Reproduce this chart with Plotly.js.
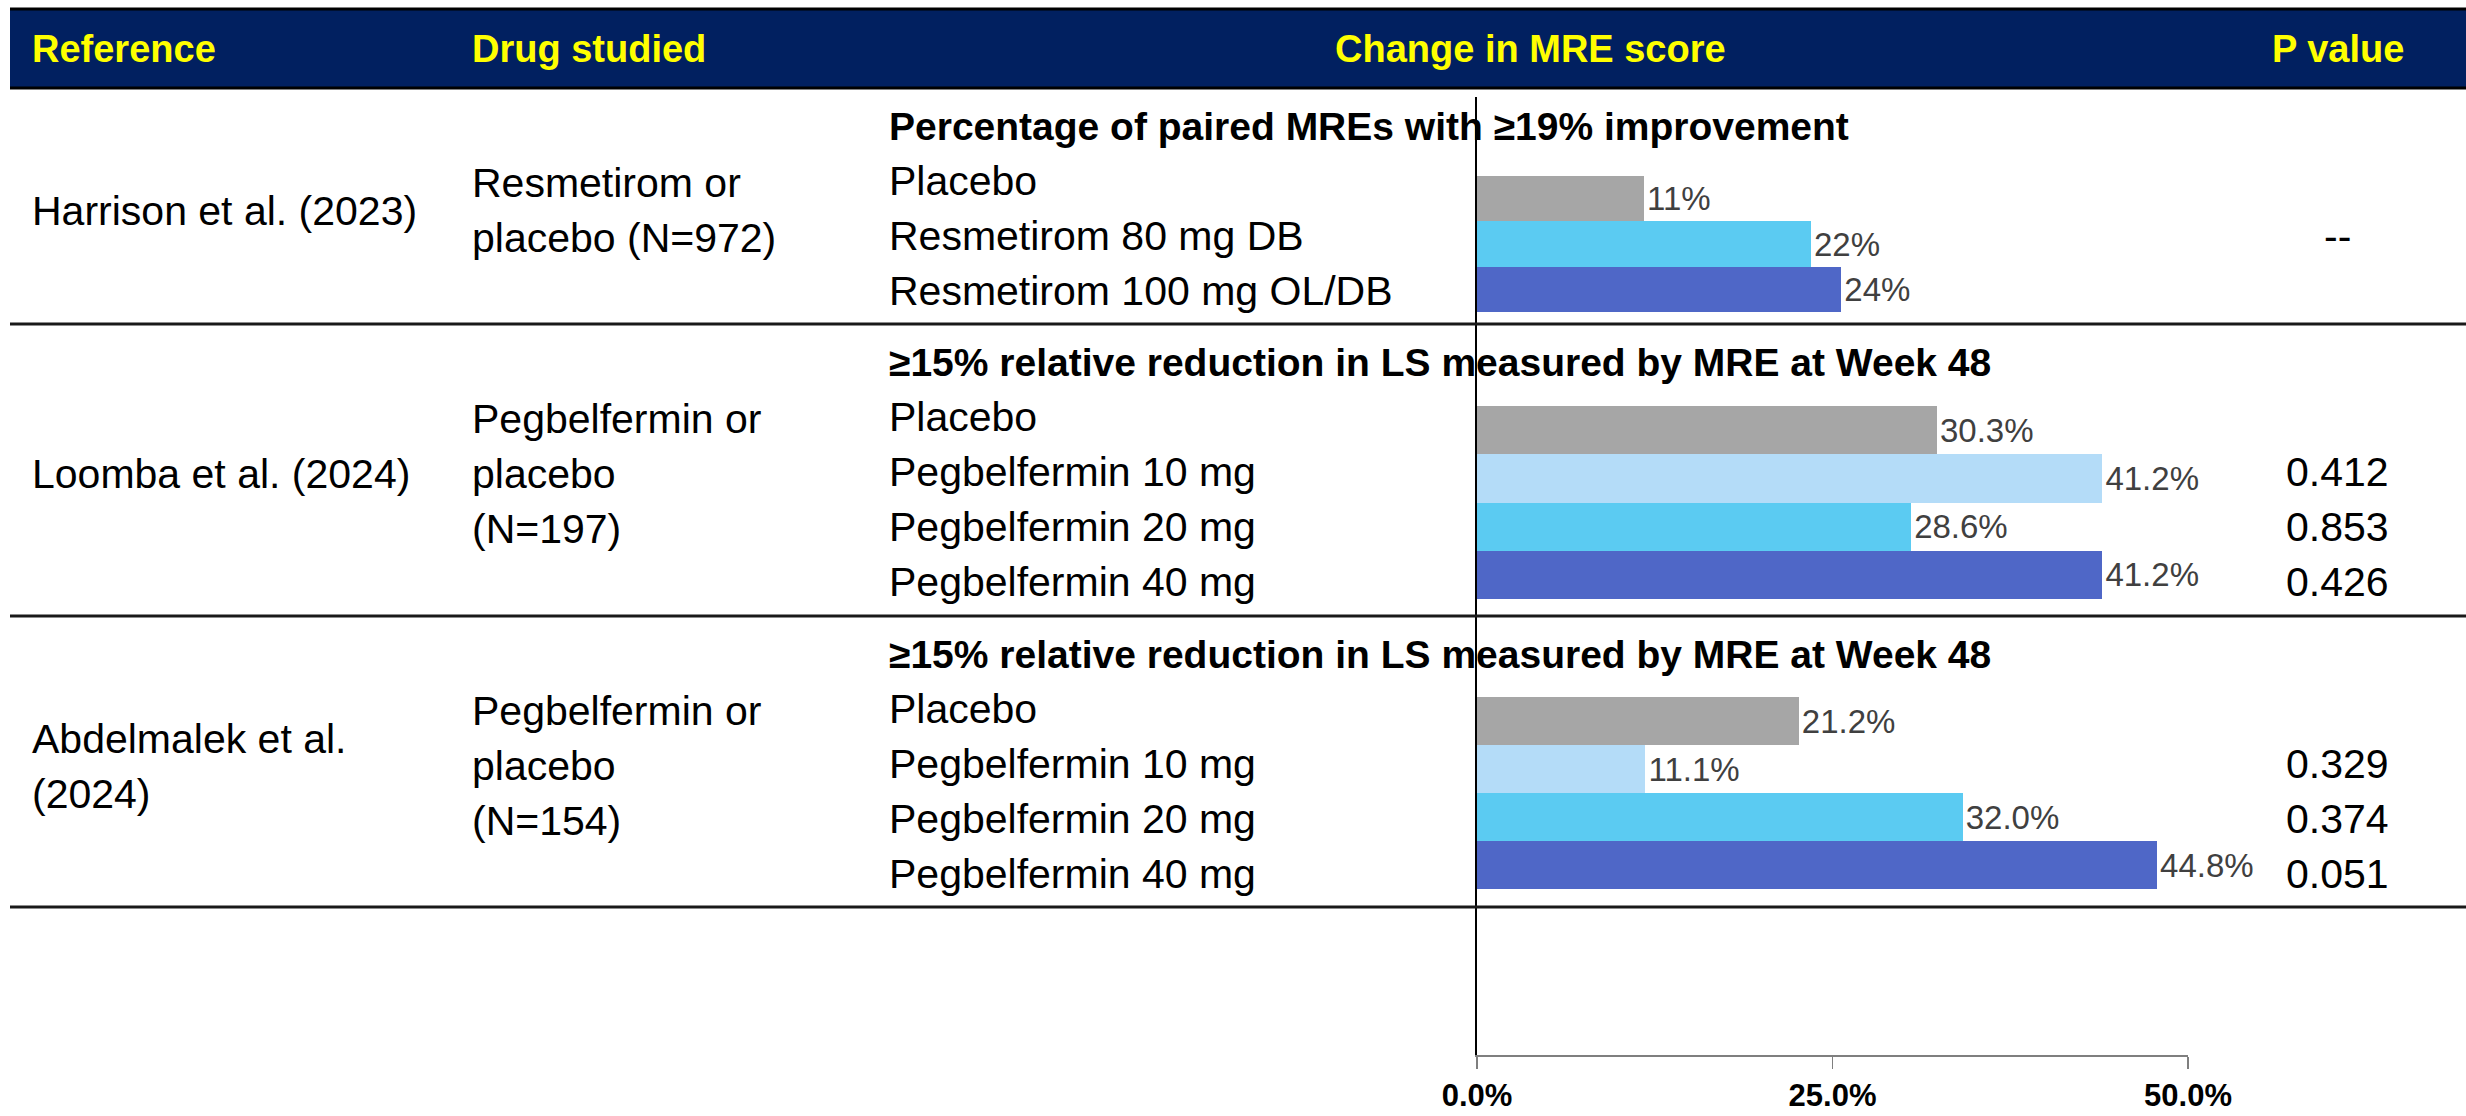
<!DOCTYPE html>
<html>
<head>
<meta charset="utf-8">
<script src="https://cdn.plot.ly/plotly-3.0.1.min.js"></script>
<style>html,body{margin:0;padding:0;background:#fff;}#chart{width:2466px;height:1116px;}</style>
</head>
<body>
<div id="chart"></div>
<script>
// ---- data ----
const columnHeaders = ['Reference', 'Drug studied', 'Change in MRE score', 'P value'];
const references = ['Harrison et al. (2023)', 'Loomba et al. (2024)', 'Abdelmalek et al.<br>(2024)'];
const drugs = ['Resmetirom or<br>placebo (N=972)', 'Pegbelfermin or<br>placebo<br>(N=197)', 'Pegbelfermin or<br>placebo<br>(N=154)'];
const measures = [
  'Percentage of paired MREs with ≥19% improvement',
  '≥15% relative reduction in LS measured by MRE at Week 48',
  '≥15% relative reduction in LS measured by MRE at Week 48'
];
const harrisonArms = ['Placebo', 'Resmetirom 80 mg DB', 'Resmetirom 100 mg OL/DB'];
const harrisonValues = [11, 22, 24];
const harrisonP = ['', '--', ''];
const loombaArms = ['Placebo', 'Pegbelfermin 10 mg', 'Pegbelfermin 20 mg', 'Pegbelfermin 40 mg'];
const loombaValues = [30.3, 41.2, 28.6, 41.2];
const loombaP = ['', '0.412', '0.853', '0.426'];
const abdelmalekArms = ['Placebo', 'Pegbelfermin 10 mg', 'Pegbelfermin 20 mg', 'Pegbelfermin 40 mg'];
const abdelmalekValues = [21.2, 11.1, 32.0, 44.8];
const abdelmalekP = ['', '0.329', '0.374', '0.051'];
const axisTicks = [0, 25, 50];
const axisTickLabels = ['0.0%', '25.0%', '50.0%'];

// ---- styling / layout ----
const W = 2466, H = 1116;
const FONT = '"Liberation Sans", Arial, sans-serif';
const GRAY = '#A6A6A6', LIGHT = '#B4DCF8', CYAN = '#5BCBF2', BLUE = '#4F67C7';
const px = v => v / W;
const py = v => 1 - v / H;

const X0 = 1477, X1 = 2188;       // axis pixel span
const groups = [
  {arms: harrisonArms, values: harrisonValues, p: harrisonP, colors: [GRAY, CYAN, BLUE], fmt: '%{x:.0f}%', sep: 88, sepBelow: 324, barTop: 176, barBot: 312},
  {arms: loombaArms, values: loombaValues, p: loombaP, colors: [GRAY, LIGHT, CYAN, BLUE], fmt: '%{x:.1f}%', sep: 324, sepBelow: 616, barTop: 406, barBot: 599},
  {arms: abdelmalekArms, values: abdelmalekValues, p: abdelmalekP, colors: [GRAY, LIGHT, CYAN, BLUE], fmt: '%{x:.1f}%', sep: 616, sepBelow: 907, barTop: 697, barBot: 889}
];

const traces = [];
const annotations = [];
const shapes = [];
const layout = {
  width: W, height: H,
  margin: {l: 0, r: 0, t: 0, b: 0},
  paper_bgcolor: '#ffffff', plot_bgcolor: 'rgba(0,0,0,0)',
  showlegend: false, bargap: 0,
  font: {family: FONT, color: '#000'},
  xaxis: {
    domain: [px(X0), px(X1)], range: [0, 50], tickmode: 'array', tickvals: axisTicks, ticktext: axisTickLabels,
    ticks: 'outside', ticklen: 12, tickwidth: 1.5, tickcolor: '#7f7f7f',
    showline: true, linecolor: '#7f7f7f', linewidth: 1.5, showgrid: false, zeroline: false,
    anchor: 'y', tickfont: {family: FONT, size: 31, weight: 'bold', color: '#000'}, ticklabelstandoff: 0,
    fixedrange: true
  },
  yaxis: {
    domain: [py(1055), py(97)], range: [0, 1], showline: true, linecolor: '#000', linewidth: 2,
    showticklabels: false, ticks: '', showgrid: false, zeroline: false, anchor: 'x', fixedrange: true
  },
  xaxis2: {domain: [px(X0), px(X1)], range: [0, 46.84], visible: false, anchor: 'y2', fixedrange: true}
};

// empty trace to register the visible axis frame
traces.push({type: 'scatter', x: [], y: [], xaxis: 'x', yaxis: 'y', hoverinfo: 'skip', showlegend: false});

function addText(text, x, y, opts) {
  annotations.push(Object.assign({
    text: text, x: px(x), y: py(y), xref: 'paper', yref: 'paper',
    xanchor: 'left', yanchor: 'middle', showarrow: false,
    font: {family: FONT, size: 41, color: '#000'}
  }, opts || {}));
}
function addLines(text, x, yCenter, step) {
  const lines = text.split('<br>');
  lines.forEach((ln, i) => addText(ln, x, yCenter + (i - (lines.length - 1) / 2) * step));
}

// header band
shapes.push({type: 'rect', xref: 'paper', yref: 'paper', x0: px(10), x1: 1, y0: py(88), y1: py(9), fillcolor: '#012060', line: {width: 0}, layer: 'below'});
shapes.push({type: 'line', xref: 'paper', yref: 'paper', x0: px(10), x1: 1, y0: py(9), y1: py(9), line: {color: '#000', width: 3}});
shapes.push({type: 'line', xref: 'paper', yref: 'paper', x0: px(10), x1: 1, y0: py(88), y1: py(88), line: {color: '#000', width: 3}});
const headerFont = {family: FONT, size: 38, color: '#FFFF00', weight: 'bold'};
addText(columnHeaders[0], 30, 49, {font: headerFont});
addText(columnHeaders[1], 470, 49, {font: headerFont});
addText(columnHeaders[2], 1530, 49, {font: headerFont, xanchor: 'center'});
addText(columnHeaders[3], 2338, 49, {font: headerFont, xanchor: 'center'});

groups.forEach((g, gi) => {
  const yName = 'y' + (gi + 2);
  const yKey = 'yaxis' + (gi + 2);
  const n = g.arms.length;
  layout[yKey] = {
    domain: [py(g.barBot), py(g.barTop)], type: 'category', categoryorder: 'array', categoryarray: g.arms,
    range: [n - 0.5, -0.5], visible: false, anchor: 'x2', fixedrange: true
  };
  traces.push({
    type: 'bar', orientation: 'h', x: g.values, y: g.arms, xaxis: 'x2', yaxis: yName,
    marker: {color: g.colors, line: {width: 0}},
    texttemplate: g.fmt, textposition: 'outside', cliponaxis: false, constraintext: 'none',
    textfont: {family: FONT, size: 33, color: '#404040'}, hoverinfo: 'skip'
  });
  // table text
  const heading = g.sep + 38;
  const rows = g.arms.map((_, k) => heading + 55 * (k + 1));
  const mid = (heading + rows[rows.length - 1]) / 2 + 2;
  addLines(references[gi], 30, mid, 55);
  addLines(drugs[gi], 470, mid, 55);
  addText(measures[gi], 887, heading, {font: {family: FONT, size: 39, color: '#000', weight: 'bold'}});
  g.arms.forEach((a, k) => addText(a, 887, rows[k]));
  g.p.forEach((p, k) => { if (p) addText(p, 2337, rows[k], {xanchor: 'center'}); });
  shapes.push({type: 'line', xref: 'paper', yref: 'paper', x0: px(10), x1: 1, y0: py(g.sepBelow), y1: py(g.sepBelow), line: {color: '#1a1a1a', width: 3}});
});

layout.annotations = annotations;
layout.shapes = shapes;

Plotly.newPlot('chart', traces, layout, {displayModeBar: false, staticPlot: true});
</script>
</body>
</html>
